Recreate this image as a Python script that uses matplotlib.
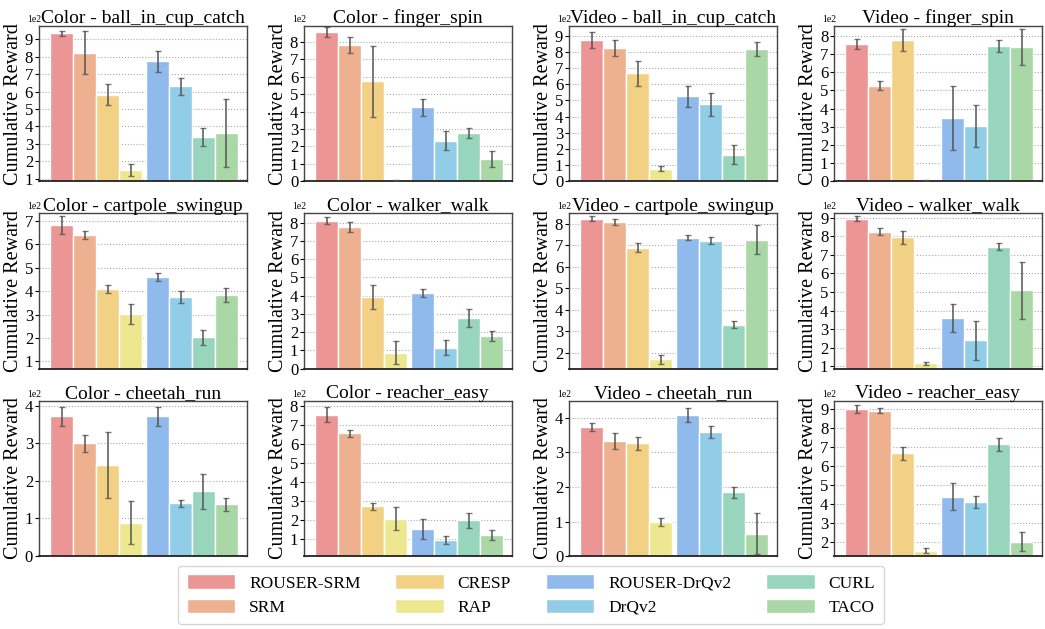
import matplotlib
matplotlib.use("Agg")
import matplotlib.pyplot as plt
from matplotlib.ticker import MultipleLocator
import numpy as np

plt.rcParams['font.family'] = ['Liberation Serif', 'DejaVu Serif']
plt.rcParams['mathtext.fontset'] = 'stix'

methods = ["ROUSER-SRM", "SRM", "CRESP", "RAP", "ROUSER-DrQv2", "DrQv2", "CURL", "TACO"]
colors = ["#EC9595", "#EDB190", "#F2D185", "#EDE88F", "#90BAEC", "#91CDE6", "#98D5BD", "#AAD7A6"]

titles = [
    "Color - ball_in_cup_catch", "Color - finger_spin", "Video - ball_in_cup_catch", "Video - finger_spin",
    "Color - cartpole_swingup", "Color - walker_walk", "Video - cartpole_swingup", "Video - walker_walk",
    "Color - cheetah_run", "Color - reacher_easy", "Video - cheetah_run", "Video - reacher_easy",
]

means_color_ball = [935, 823, 583, 148, 775, 631, 338, 361]
stds_color_ball = [15, 124, 58, 35, 60, 50, 52, 194]
means_color_finger = [856, 781, 573, 3, 423, 233, 277, 129]
stds_color_finger = [27, 47, 204, 2, 50, 54, 26, 46]
means_video_ball = [873, 823, 668, 77, 525, 475, 164, 817]
stds_video_ball = [49, 49, 77, 15, 66, 73, 58, 43]
means_video_finger = [756, 527, 778, 6, 346, 305, 745, 738]
stds_video_finger = [28, 27, 63, 2, 176, 114, 31, 100]
means_color_cartpole = [684, 641, 410, 303, 461, 376, 204, 384]
stds_color_cartpole = [39, 16, 16, 44, 16, 26, 32, 29]
means_color_walker = [811, 778, 393, 88, 416, 114, 278, 179]
stds_color_walker = [18, 27, 64, 62, 23, 41, 47, 29]
means_video_cartpole = [823, 809, 689, 169, 734, 721, 331, 726]
stds_video_cartpole = [12, 14, 22, 21, 11, 15, 18, 67]
means_video_walker = [893, 825, 793, 116, 358, 240, 744, 508]
stds_video_walker = [13, 19, 36, 7, 76, 106, 18, 151]
means_color_cheetah = [371, 300, 242, 89, 371, 140, 172, 138]
stds_color_cheetah = [25, 23, 87, 58, 24, 10, 46, 17]
means_color_reacher = [752, 655, 271, 206, 153, 93, 197, 121]
stds_color_reacher = [40, 19, 19, 61, 53, 20, 38, 27]
means_video_cheetah = [374, 333, 327, 98, 409, 359, 185, 65]
stds_video_cheetah = [11, 23, 19, 11, 21, 18, 16, 60]
means_video_reacher = [900, 891, 666, 152, 438, 408, 714, 200]
stds_video_reacher = [19, 13, 34, 13, 71, 32, 34, 51]

all_means = [means_color_ball, means_color_finger, means_video_ball, means_video_finger,
             means_color_cartpole, means_color_walker, means_video_cartpole, means_video_walker,
             means_color_cheetah, means_color_reacher, means_video_cheetah, means_video_reacher]
all_stds = [stds_color_ball, stds_color_finger, stds_video_ball, stds_video_finger,
            stds_color_cartpole, stds_color_walker, stds_video_cartpole, stds_video_walker,
            stds_color_cheetah, stds_color_reacher, stds_video_cheetah, stds_video_reacher]
ylims = [(85, 977), (0, 890), (0, 960), (0, 855),
         (69, 733), (0, 851), (126, 848), (87, 923),
         (0, 413), (10, 826), (0, 450), (124, 944)]

x = np.array([0, 1, 2, 3, 4.17, 5.17, 6.17, 7.17])

fig = plt.figure(figsize=(10.45, 6.29), dpi=100)
gs = fig.add_gridspec(3, 4, left=0.037, right=0.997, top=0.9587, bottom=0.116,
                      wspace=0.274, hspace=0.206)

handles = []
for i in range(12):
    ax = fig.add_subplot(gs[i // 4, i % 4])
    m = np.array(all_means[i], dtype=float)
    s = np.array(all_stds[i], dtype=float)
    bars = ax.bar(x, m, width=1.0, color=colors, edgecolor='white', linewidth=1.0, zorder=2)
    ax.errorbar(x, m, yerr=s, fmt='none', ecolor=(0.3, 0.3, 0.3, 0.75), elinewidth=1.4,
                capsize=2.5, capthick=1.0, zorder=3)
    if i == 0:
        handles = list(bars)
    ax.set_xlim(-1.0, 8.05)
    ax.set_ylim(*ylims[i])
    ax.set_xticks([])
    ax.yaxis.set_major_locator(MultipleLocator(100))
    ax.ticklabel_format(axis='y', style='sci', scilimits=(0, 0))
    ot = ax.yaxis.get_offset_text()
    ot.set_fontsize(7)
    ot.set_x(-0.055)
    ax.tick_params(axis='y', labelsize=12, length=3, width=0.8, pad=1)
    ax.yaxis.grid(True, linestyle=':', color='#aaaaaa', linewidth=0.8, zorder=0)
    ax.set_axisbelow(True)
    for sp in ['left', 'right', 'top']:
        ax.spines[sp].set_color('#444444')
        ax.spines[sp].set_linewidth(1.0)
    ax.spines['bottom'].set_color('#222222')
    ax.spines['bottom'].set_linewidth(1.3)
    ax.set_title(titles[i], fontsize=14, pad=2, y=1.0)
    ax.set_ylabel("Cumulative Reward", fontsize=14.5, labelpad=1)

leg = fig.legend(handles, methods, loc='center', bbox_to_anchor=(0.508, 0.054), ncol=4,
                 fontsize=12.5, handlelength=2.8, handleheight=0.9, columnspacing=2.0,
                 frameon=True, fancybox=True, edgecolor='#cccccc', borderpad=0.5,
                 labelspacing=0.4)

fig.savefig("out.png", dpi=100)
